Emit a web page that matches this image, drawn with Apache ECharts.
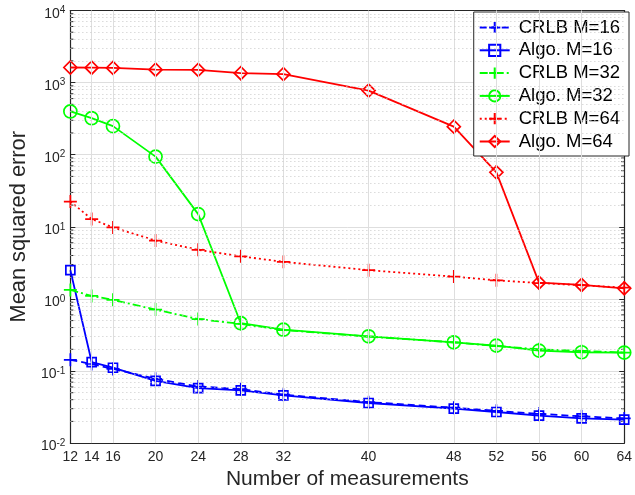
<!DOCTYPE html>
<html>
<head>
<meta charset="utf-8">
<script src="https://cdn.jsdelivr.net/npm/echarts@6/dist/echarts.min.js"></script>
<style>
  html, body { margin: 0; padding: 0; background: #fff; }
  #chart { width: 635px; height: 495px; }
</style>
</head>
<body>
<div id="chart"></div>
<script>
  // number of measurements
  const xValues = [12, 14, 16, 20, 24, 28, 32, 40, 48, 52, 56, 60, 64]
  const xTicks = [12, 14, 16, 20, 24, 28, 32, 40, 48, 52, 56, 60, 64]

  // mean squared error
  const crlb16 = [0.143, 0.125, 0.107, 0.078, 0.061, 0.056, 0.047, 0.037, 0.031, 0.028, 0.0255, 0.0235, 0.022]
  const algo16 = [2.5, 0.133, 0.111, 0.073, 0.058, 0.054, 0.046, 0.036, 0.030, 0.027, 0.024, 0.022, 0.0211]
  const crlb32 = [1.33, 1.10, 0.97, 0.71, 0.525, 0.45, 0.37, 0.30, 0.25, 0.222, 0.2, 0.19, 0.18]
  const algo32 = [398, 321, 249, 94, 15, 0.46, 0.374, 0.303, 0.25, 0.225, 0.192, 0.182, 0.18]
  const crlb64 = [22.4, 12.8, 9.8, 6.45, 4.8, 3.9, 3.27, 2.5, 2.04, 1.81, 1.66, 1.55, 1.43]
  const algo64 = [1620, 1610, 1600, 1510, 1500, 1350, 1310, 775, 245, 57, 1.68, 1.56, 1.40]

  // log axis decades and the dotted minor grid between them
  const yDecades = [-2, -1, 0, 1, 2, 3]
  const minorMult = [2, 3, 4, 5, 6, 7, 8, 9]

  const BLUE = '#0000ff'
  const GREEN = '#00ff00'
  const RED = '#ff0000'
  const AX = '#262626'
  const FONT = 'Liberation Sans'

  const PLUS = 'path://M0,6L12,6M6,0L6,12'

  let minorVals = []
  yDecades.forEach(d => {
    minorMult.forEach(m => minorVals.push(m * Math.pow(10, d)))
  })
  let minorY = minorVals.map(v => ({yAxis: v}))
  let majorX = xTicks.slice(1, -1).map(v => ({xAxis: v}))

  function pair(xs, ys) {
    return xs.map((x, i) => [x, ys[i]])
  }

  function makeSeries(name, data, color, lineType, symbol, size, hollow) {
    return {
      name: name,
      type: 'line',
      data: pair(xValues, data),
      symbol: symbol,
      symbolSize: size,
      showAllSymbol: true,
      lineStyle: {color: color, width: 1.8, type: lineType},
      itemStyle: {
        color: hollow ? 'rgba(0,0,0,0)' : color,
        borderColor: color,
        borderWidth: 1.7
      },
      emphasis: {disabled: true},
      z: 3
    }
  }

  const chart = echarts.init(document.getElementById('chart'))

  chart.setOption({
    animation: false,
    textStyle: {fontFamily: FONT},
    grid: {left: 59, right: 7, top: 9, bottom: 50},
    legend: {
      orient: 'vertical',
      right: 6,
      top: 12,
      padding: [6, 9, 5, 5],
      itemGap: 3.8,
      itemWidth: 30,
      itemHeight: 14,
      backgroundColor: '#fff',
      borderColor: AX,
      borderWidth: 1,
      borderRadius: 0,
      textStyle: {fontFamily: FONT, fontSize: 18.5, lineHeight: 19, color: '#000', padding: [0, 0, 0, 4]},
      data: ['CRLB M=16', 'Algo. M=16', 'CRLB M=32', 'Algo. M=32', 'CRLB M=64', 'Algo. M=64']
    },
    xAxis: [{
      type: 'value',
      min: 12,
      max: 64,
      name: 'Number of measurements',
      nameLocation: 'middle',
      nameGap: 25,
      nameTextStyle: {fontFamily: FONT, fontSize: 21, color: AX, verticalAlign: 'top'},
      axisLine: {lineStyle: {color: AX, width: 1.2}},
      axisTick: {inside: true, length: 5, customValues: xTicks, lineStyle: {color: AX}},
      axisLabel: {customValues: xTicks, fontFamily: FONT, fontSize: 14, color: AX, margin: 7},
      splitLine: {show: false}
    }, {
      // top border of the box
      type: 'value',
      position: 'top',
      min: 12,
      max: 64,
      axisLine: {show: true, lineStyle: {color: AX, width: 1.2}},
      axisTick: {show: true, inside: true, length: 5, customValues: xTicks, lineStyle: {color: AX}},
      axisLabel: {show: false},
      splitLine: {show: false}
    }],
    yAxis: [{
      type: 'log',
      logBase: 10,
      min: 0.01,
      max: 10000,
      name: 'Mean squared error',
      nameLocation: 'middle',
      nameGap: 35.5,
      nameTextStyle: {fontFamily: FONT, fontSize: 21.8, color: AX},
      axisLine: {show: true, lineStyle: {color: AX, width: 1.2}},
      axisTick: {inside: true, length: 5, lineStyle: {color: AX}},
      axisLabel: {
        margin: 5,
        formatter: function (v) {
          let e = Math.round(Math.log10(v))
          return '{b|10}{s|' + e + '}'
        },
        rich: {
          b: {fontFamily: FONT, fontSize: 14, color: AX, lineHeight: 14, padding: [7, 0, 0, 0]},
          s: {fontFamily: FONT, fontSize: 10, color: AX, lineHeight: 10}
        }
      },
      splitLine: {show: true, lineStyle: {color: '#dedede', width: 1}}
    }, {
      // right border of the box
      type: 'log',
      logBase: 10,
      min: 0.01,
      max: 10000,
      position: 'right',
      axisLine: {show: true, lineStyle: {color: AX, width: 1.2}},
      axisTick: {show: true, inside: true, length: 5, lineStyle: {color: AX}},
      axisLabel: {show: false},
      splitLine: {show: false}
    }],
    series: [
      {
        // grid lines: vertical majors at the tick values, dotted minors on the log axis
        name: 'grid',
        type: 'line',
        data: [],
        z: 1,
        silent: true,
        markLine: {
          silent: true,
          symbol: ['none', 'none'],
          label: {show: false},
          animation: false,
          data: majorX.map(d => Object.assign({lineStyle: {color: '#dedede', width: 1, type: 'solid'}}, d))
            .concat(minorY.map(d => Object.assign({lineStyle: {color: '#c8c8c8', width: 1, type: [1, 3]}}, d)))
        }
      },
      {
        // minor ticks on the left and right edges of the box
        name: 'minorTicks',
        type: 'custom',
        silent: true,
        z: 2,
        data: minorVals.map(v => [12, v]),
        renderItem: function (params, api) {
          let v = api.value(1)
          let l = api.coord([12, v])
          let r = api.coord([64, v])
          let st = {stroke: AX, lineWidth: 1}
          return {
            type: 'group',
            children: [
              {type: 'line', shape: {x1: l[0], y1: l[1], x2: l[0] + 3, y2: l[1]}, style: st},
              {type: 'line', shape: {x1: r[0], y1: r[1], x2: r[0] - 3, y2: r[1]}, style: st}
            ]
          }
        }
      },
      makeSeries('CRLB M=16', crlb16, BLUE, [7, 4], PLUS, 13, false),
      makeSeries('Algo. M=16', algo16, BLUE, 'solid', 'rect', 9, true),
      makeSeries('CRLB M=32', crlb32, GREEN, [8, 3, 2, 3], PLUS, 13, false),
      makeSeries('Algo. M=32', algo32, GREEN, 'solid', 'circle', 13, true),
      makeSeries('CRLB M=64', crlb64, RED, [2, 3], PLUS, 13, false),
      makeSeries('Algo. M=64', algo64, RED, 'solid', 'diamond', 13, true)
    ]
  })
</script>
</body>
</html>
